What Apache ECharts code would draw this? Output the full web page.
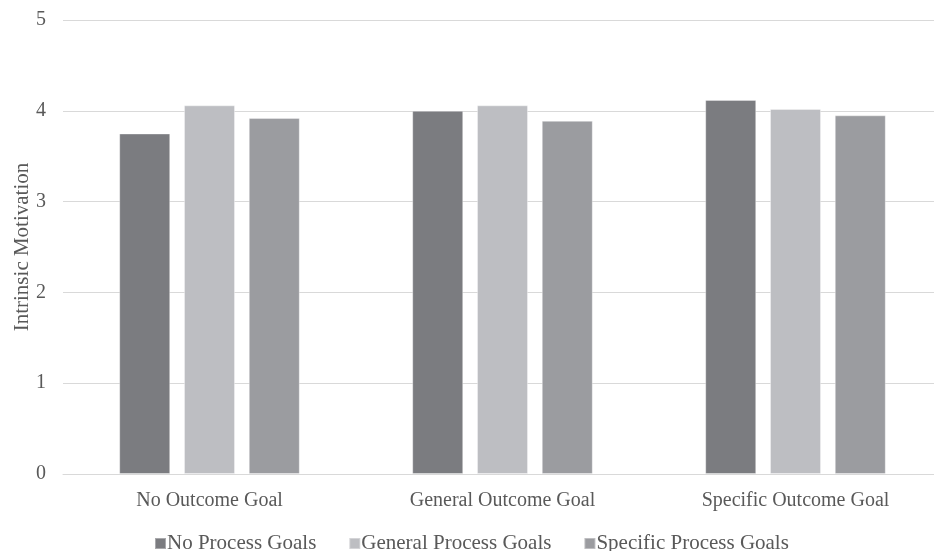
<!DOCTYPE html>
<html><head><meta charset="utf-8">
<script src="https://cdn.jsdelivr.net/npm/echarts@6/dist/echarts.min.js"></script>
<style>html,body{margin:0;padding:0;background:#fff}#c{width:934px;height:551px}</style>
</head><body><div id="c"></div>
<script>
const categories = ['No Outcome Goal', 'General Outcome Goal', 'Specific Outcome Goal'];
const seriesNames = ['No Process Goals', 'General Process Goals', 'Specific Process Goals'];
const noProcess = [3.75, 4.00, 4.12];
const generalProcess = [4.06, 4.06, 4.02];
const specificProcess = [3.92, 3.89, 3.95];
const colors = ['#7b7c80', '#bdbec2', '#9b9ca0'];
const font = 'Liberation Serif, Times New Roman, serif';
const chart = echarts.init(document.getElementById('c'));
const mk = (name, data, color) => ({
  name, type: 'bar', data, barWidth: 51, barGap: '27%',
  itemStyle: { color, borderColor: 'rgba(255,255,255,0.35)', borderWidth: 1 }
});
chart.setOption({
  animation: false,
  textStyle: { fontFamily: font },
  grid: { left: 63, top: 20, width: 879, height: 454, containLabel: false, outerBoundsMode: 'none' },
  legend: {
    top: 533, left: 154, padding: 0, itemWidth: 11, itemHeight: 11, itemGap: 32,
    icon: 'rect',
    textStyle: { fontFamily: font, fontSize: 21, color: '#595959', padding: [0, 0, 0, -4] },
    data: seriesNames
  },
  xAxis: {
    type: 'category', data: categories,
    axisLine: { lineStyle: { color: '#d9d9d9', width: 1 } },
    axisTick: { show: false },
    axisLabel: { fontFamily: font, fontSize: 20, color: '#595959', margin: 17 }
  },
  yAxis: {
    type: 'value', min: 0, max: 5, interval: 1,
    name: 'Intrinsic Motivation', nameLocation: 'middle', nameGap: 30, nameRotate: 90,
    nameMoveOverlap: false,
    nameTextStyle: { fontFamily: font, fontSize: 21, color: '#595959' },
    axisLine: { show: false }, axisTick: { show: false },
    axisLabel: { fontFamily: font, fontSize: 20, color: '#595959', margin: 17 },
    splitLine: { lineStyle: { color: '#d9d9d9', width: 1 } }
  },
  series: [
    mk(seriesNames[0], noProcess, colors[0]),
    mk(seriesNames[1], generalProcess, colors[1]),
    mk(seriesNames[2], specificProcess, colors[2])
  ]
});
</script></body></html>
